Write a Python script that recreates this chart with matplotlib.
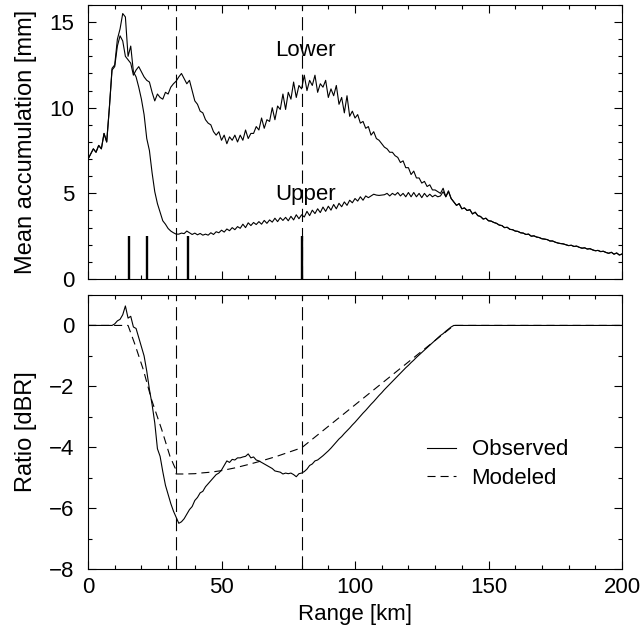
import matplotlib
matplotlib.use("Agg")
import matplotlib.pyplot as plt
import numpy as np
from matplotlib.ticker import MultipleLocator

plt.rcParams['font.family'] = ['Liberation Sans', 'DejaVu Sans']
plt.rcParams['lines.scale_dashes'] = False

# ---------------- data ----------------
range_km = np.arange(0, 201)  # 1-km range gates

lower_head = [
    7.0, 7.3, 7.6, 7.4, 7.8, 7.6, 8.5, 8.0, 10.0, 12.2,          # 0-9
    12.4, 13.6, 14.2, 13.9, 13.0, 12.8, 12.6, 11.9, 12.2, 12.4,  # 10-19
    12.1, 11.8, 11.6, 11.5, 10.9, 10.4, 10.8, 10.6, 10.5, 10.9,  # 20-29
    10.8, 11.2, 11.4, 11.55, 11.8, 12.0, 11.7, 11.4, 11.6, 11.0, # 30-39
    10.4, 10.2, 9.8, 9.7, 9.3, 9.1, 9.0, 8.6, 8.4, 8.6,          # 40-49
    8.1, 8.4, 7.9, 8.3, 8.1, 8.4, 8.0, 8.4, 8.1, 8.7,            # 50-59
    8.2, 8.5, 8.5, 8.9, 8.7, 9.4, 8.8, 9.3, 9.2, 10.0,           # 60-69
    9.3, 10.1, 9.9, 10.8, 9.9, 10.9, 10.5, 11.5, 10.6, 11.3,     # 70-79
    11.1, 11.9, 11.0, 11.6, 11.3, 11.9, 10.9, 11.4, 11.2, 11.6,  # 80-89
    10.6, 11.1, 10.7, 11.3, 10.2, 10.6, 9.7, 10.7, 9.5, 9.8,     # 90-99
    9.4, 9.6, 9.1, 9.2, 8.8, 8.9, 8.4, 8.6, 8.2, 8.1,            # 100-109
    7.9, 7.7, 7.6, 7.4, 7.4, 7.2, 7.1, 6.8, 6.9, 6.5,            # 110-119
    6.5, 6.1, 6.3, 5.9, 5.9, 5.6, 5.7, 5.4, 5.5, 5.2,            # 120-129
    5.2, 5.1, 5.0, 5.3, 4.8, 5.1,                                # 130-135
]

upper_head = [
    7.0, 7.3, 7.6, 7.4, 7.8, 7.6, 8.5, 8.0, 10.0, 12.3,          # 0-9
    12.5, 14.0, 14.6, 15.5, 15.3, 13.0, 13.6, 12.1, 11.8, 11.2,  # 10-19
    10.5, 9.6, 8.2, 7.5, 6.2, 5.1, 4.4, 3.9, 3.4, 3.2,           # 20-29
    2.95, 2.8, 2.7, 2.62, 2.62, 2.68, 2.65, 2.8, 2.7, 2.6,       # 30-39
    2.68, 2.58, 2.66, 2.56, 2.62, 2.56, 2.7, 2.6, 2.76, 2.7,     # 40-49
    2.85, 2.74, 2.92, 2.82, 3.0, 2.88, 3.06, 2.96, 3.2, 3.0,     # 50-59
    3.28, 3.12, 3.3, 3.18, 3.35, 3.2, 3.42, 3.25, 3.45, 3.32,    # 60-69
    3.55, 3.35, 3.58, 3.42, 3.6, 3.4, 3.66, 3.45, 3.75, 3.52,    # 70-79
    3.75, 3.62, 3.95, 3.7, 4.02, 3.82, 4.1, 3.88, 4.2, 3.95,     # 80-89
    4.25, 4.02, 4.35, 4.1, 4.42, 4.22, 4.5, 4.3, 4.6, 4.45,      # 90-99
    4.7, 4.55, 4.8, 4.6, 4.85, 4.75, 4.85, 4.95, 4.9, 4.88,      # 100-109
    4.9, 4.92, 5.0, 4.85, 5.0, 4.9, 5.05, 4.85, 5.0, 4.8,        # 110-119
    5.05, 4.8, 5.05, 4.8, 5.0, 4.75, 5.0, 4.8, 4.95, 4.8,        # 120-129
    4.9, 4.8, 4.85, 5.1, 4.8, 5.15,                              # 130-135
]

shared_tail = [
    4.7, 4.5, 4.3, 4.4, 4.1, 4.15, 4.0, 4.05, 3.8, 3.9,          # 136-145
    3.7, 3.65, 3.5, 3.55, 3.4, 3.38, 3.3, 3.25, 3.15, 3.12,      # 146-155
    3.0, 3.02, 2.9, 2.88, 2.8, 2.78, 2.7, 2.68, 2.6, 2.62,       # 156-165
    2.5, 2.52, 2.45, 2.42, 2.35, 2.33, 2.3, 2.22, 2.22, 2.15,    # 166-175
    2.1, 2.07, 2.05, 2.0, 1.95, 1.97, 1.9, 1.92, 1.85, 1.8,      # 176-185
    1.82, 1.75, 1.77, 1.7, 1.65, 1.67, 1.6, 1.62, 1.55, 1.5,     # 186-195
    1.56, 1.45, 1.52, 1.4, 1.46,                                 # 196-200
]

lower_mm = lower_head + shared_tail
upper_mm = upper_head + shared_tail

gauge_km = [15.5, 22.0, 37.5, 80.0]
gauge_mark = [2.5, 2.5, 2.5, 2.5]
boundary_km = [33.0, 80.0]

obs_km = list(range(0, 138)) + [200]
obs_dbr = [
    0, 0, 0, 0, 0, 0, 0, 0, 0, 0,                                        # 0-9
    0.05, 0.15, 0.2, 0.35, 0.64, 0.24, 0.3, -0.05, -0.1, -0.4,           # 10-19
    -0.7, -1.0, -1.5, -2.1, -2.6, -3.2, -4.05, -4.3, -4.8, -5.25,        # 20-29
    -5.55, -5.85, -6.1, -6.3, -6.5, -6.45, -6.35, -6.2, -6.05, -5.95,    # 30-39
    -5.75, -5.65, -5.5, -5.45, -5.3, -5.2, -5.1, -5.0, -4.9, -4.85,      # 40-49
    -4.75, -4.6, -4.45, -4.5, -4.4, -4.42, -4.35, -4.35, -4.32, -4.3,    # 50-59
    -4.22, -4.35, -4.32, -4.42, -4.45, -4.5, -4.55, -4.6, -4.65, -4.7,   # 60-69
    -4.78, -4.8, -4.82, -4.88, -4.85, -4.87, -4.85, -4.9, -4.97, -4.87,  # 70-79
    -4.85, -4.8, -4.72, -4.6, -4.55, -4.45, -4.42, -4.35, -4.28, -4.2,   # 80-89
    -4.12, -4.03, -3.93, -3.83, -3.73, -3.65, -3.55, -3.46, -3.37, -3.27, # 90-99
    -3.18, -3.08, -2.98, -2.88, -2.79, -2.69, -2.59, -2.5, -2.4, -2.3,   # 100-109
    -2.21, -2.11, -2.02, -1.93, -1.84, -1.75, -1.66, -1.57, -1.48, -1.39, # 110-119
    -1.31, -1.22, -1.14, -1.05, -0.97, -0.89, -0.81, -0.73, -0.65, -0.57, # 120-129
    -0.49, -0.41, -0.33, -0.27, -0.19, -0.12, -0.05, 0.0,                # 130-137
    0.0,                                                                 # 200
]

mod_km = [0, 15, 17.6, 20.7, 23.8, 27.6, 30.7, 32.6, 33.0, 33.0, 36, 40, 42, 46,
          50, 55, 60, 65, 70.7, 75, 80, 137, 200]
mod_dbr = [0, 0, -0.63, -1.45, -2.44, -3.42, -4.3, -4.68, -4.72, -4.88, -4.88, -4.87,
           -4.85, -4.82, -4.77, -4.68, -4.57, -4.45, -4.3, -4.17, -4.02, 0, 0]

# ---------------- figure ----------------
FS = 16
FS_Y = 17
fig = plt.figure(figsize=(6.41, 6.37), dpi=100)
ax1 = fig.add_axes([0.1373, 0.5620, 0.8331, 0.4302])
ax2 = fig.add_axes([0.1373, 0.1068, 0.8331, 0.4301])

lw = 0.8
ax1.plot(range_km, lower_mm, color='k', lw=lw)
ax1.plot(range_km, upper_mm, color='k', lw=lw)
ax1.vlines(gauge_km, 0, gauge_mark, color='k', lw=1.7)
for b in boundary_km:
    ax1.axvline(b, color='k', lw=lw, dashes=(9.5, 4.3))
    ax2.axvline(b, color='k', lw=lw, dashes=(9.5, 4.3))

ax1.text(70, 13.0, 'Lower', fontsize=FS, ha='left', va='baseline')
ax1.text(70, 4.63, 'Upper', fontsize=FS, ha='left', va='baseline')

ax2.plot(obs_km, obs_dbr, color='k', lw=lw, label='Observed')
ax2.plot(mod_km, mod_dbr, color='k', lw=lw, dashes=(5.8, 3.6), label='Modeled')

ax1.set_xlim(0, 200)
ax1.set_ylim(0, 16)
ax2.set_xlim(0, 200)
ax2.set_ylim(-8, 1)

for ax in (ax1, ax2):
    ax.xaxis.set_major_locator(MultipleLocator(50))
    ax.xaxis.set_minor_locator(MultipleLocator(10))
    ax.tick_params(which='both', direction='in', top=True, right=True,
                   width=0.8, labelsize=FS)
    ax.tick_params(which='major', length=5.8)
    ax.tick_params(which='minor', length=3.2)
    ax.tick_params(axis='y', pad=10)
    ax.tick_params(axis='x', pad=6)
    for s in ax.spines.values():
        s.set_linewidth(0.8)

ax1.yaxis.set_major_locator(MultipleLocator(5))
ax1.yaxis.set_minor_locator(MultipleLocator(1))
ax2.yaxis.set_major_locator(MultipleLocator(2))
ax2.yaxis.set_minor_locator(MultipleLocator(1))
ax1.tick_params(axis='x', labelbottom=False)

ax2.set_yticks([-8, -6, -4, -2, 0])
ax2.set_yticklabels(['\u22128', '\u22126', '\u22124', '\u22122', '0'])

ax1.set_ylabel('Mean accumulation [mm]', fontsize=FS_Y)
ax2.set_ylabel('Ratio [dBR]', fontsize=FS_Y)
ax1.yaxis.set_label_coords(-0.095, 0.5)
ax2.yaxis.set_label_coords(-0.095, 0.5)
ax2.set_xlabel('Range [km]', fontsize=FS, labelpad=4)

ax2.legend(loc='center left', bbox_to_anchor=(0.635, 0.382), frameon=False,
           fontsize=FS, handlelength=1.3, handletextpad=0.7, borderpad=0,
           borderaxespad=0, labelspacing=0.35)

fig.savefig('out.png', dpi=100)
